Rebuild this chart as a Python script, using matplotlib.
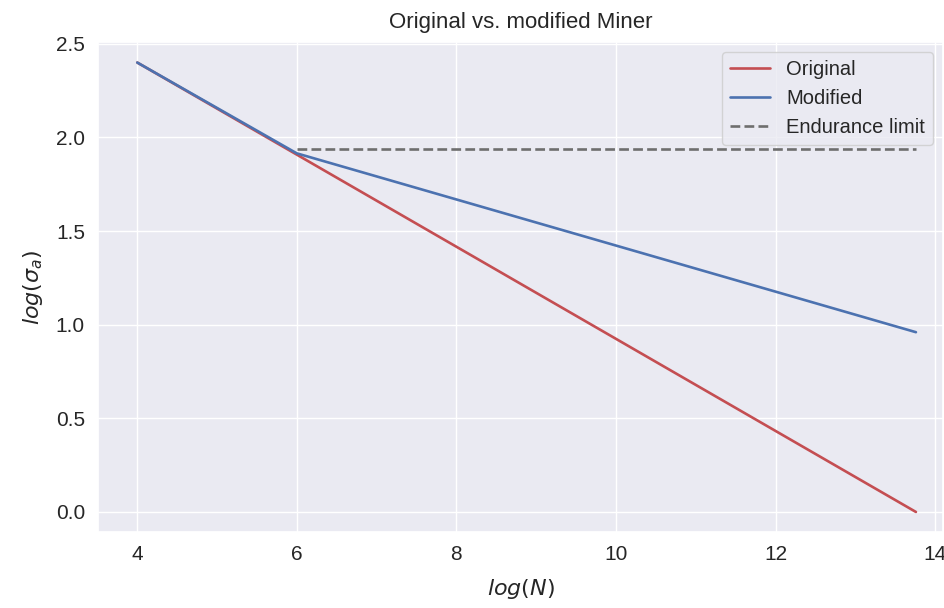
import numpy as np
import matplotlib.pyplot as plt
import seaborn as sns

sns.set_theme(style='darkgrid')
sns.set_color_codes()
plt.rcParams['font.family'] = ['Liberation Sans', 'DejaVu Sans']

# log(N) and log(sigma_a)
logN_orig = [4.0, 13.76]
logS_orig = [2.40, 0.0]

logN_mod = [4.0, 6.0, 13.76]
logS_mod = [2.40, 1.915, 0.96]

logN_end = [6.0, 13.76]
logS_end = [1.94, 1.94]

fig = plt.figure(figsize=(9.44, 6.08), dpi=100)
ax = fig.add_axes([0.104, 0.125, 0.895, 0.806])

ax.plot(logN_orig, logS_orig, 'r-', lw=1.9, label='Original')
ax.plot(logN_mod, logS_mod, 'b-', lw=1.9, label='Modified')
ax.plot(logN_end, logS_end, '--', color='#6e6e6e', lw=1.9, label='Endurance limit')

ax.set_xlim(3.51, 14.1)
ax.set_ylim(-0.107, 2.51)
ax.tick_params(labelsize=15)
ax.set_xlabel(r'$log(N)$', fontsize=16, labelpad=9)
ax.set_ylabel(r'$log(\sigma_a)$', fontsize=16, labelpad=8)
ax.set_title('Original vs. modified Miner', fontsize=16, pad=10)
ax.legend(loc='upper right', fontsize=14.5)

plt.savefig('out.png')
plt.close()
